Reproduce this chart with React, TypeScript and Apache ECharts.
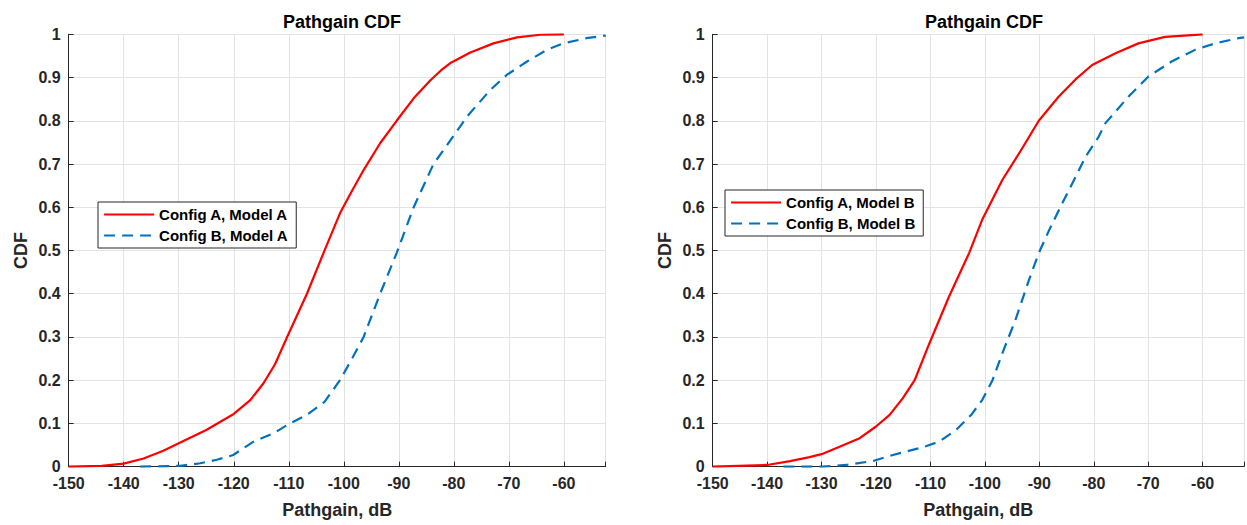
import React, { useEffect, useRef } from "react";
import * as echarts from "echarts";

// Left subplot (Model A)
const leftAX = [-150, -144, -140, -136.4, -132.8, -130, -125, -120, -117, -114.6, -112.5, -110.3, -106.7, -103.7, -100.7, -98.5, -96.4, -93.4, -90.4, -87.3, -84.3, -82.3, -80.7, -77, -72.8, -68.5, -64.3, -60];
const leftAY = [0, 0.002, 0.007, 0.019, 0.037, 0.054, 0.085, 0.122, 0.154, 0.193, 0.237, 0.3, 0.4, 0.494, 0.586, 0.638, 0.686, 0.748, 0.8, 0.852, 0.893, 0.917, 0.933, 0.958, 0.979, 0.993, 0.999, 1.0];
const leftBX = [-137, -129.7, -126.1, -123.1, -120.1, -116.4, -112.8, -109.8, -106.7, -103.5, -100.7, -98.5, -96.4, -93.4, -90.4, -87.3, -83.7, -81.9, -78.9, -77.6, -73.4, -70.4, -66.7, -63.1, -60.1, -55.9, -52.4];
const leftBY = [0, 0.002, 0.008, 0.016, 0.027, 0.058, 0.077, 0.1, 0.12, 0.15, 0.2, 0.25, 0.3, 0.4, 0.494, 0.6, 0.7, 0.732, 0.786, 0.81, 0.871, 0.906, 0.937, 0.964, 0.979, 0.991, 0.997];

// Right subplot (Model B)
const rightAX = [-150, -140, -135.8, -132.2, -130, -126.7, -123, -120, -117.5, -115.1, -112.9, -110.2, -106.6, -102.9, -100.5, -96.8, -93.7, -90.1, -86.5, -83.4, -80.3, -76, -71.8, -66.9, -60];
const rightAY = [0, 0.004, 0.013, 0.022, 0.029, 0.046, 0.066, 0.093, 0.12, 0.158, 0.2, 0.285, 0.393, 0.494, 0.571, 0.663, 0.725, 0.8, 0.855, 0.895, 0.929, 0.956, 0.979, 0.994, 1.0];
const rightBX = [-137, -130, -125.5, -120.6, -116.9, -111.4, -108.4, -105.3, -102.5, -100.5, -98.6, -96.8, -94.4, -91.9, -90.1, -88.2, -85.8, -83.3, -81.5, -79.1, -77.9, -73.6, -70, -65.7, -61.4, -57.7, -53.4, -52.4];
const rightBY = [0, 0, 0.004, 0.013, 0.027, 0.045, 0.058, 0.085, 0.12, 0.154, 0.2, 0.262, 0.339, 0.432, 0.494, 0.547, 0.609, 0.671, 0.717, 0.763, 0.794, 0.856, 0.902, 0.937, 0.964, 0.979, 0.991, 0.993];

const seriesNames = ["Config A, Model A", "Config B, Model A", "Config A, Model B", "Config B, Model B"];
const titleText = "Pathgain CDF";
const xName = "Pathgain, dB";
const yName = "CDF";
const xMin = -150;
const xMax = -52.4;

const zip = (xs: number[], ys: number[]) => xs.map((x, i) => [x, ys[i]]);

const FONT = "'Liberation Sans', Arial, Helvetica, sans-serif";
const AXIS_COLOR = "#262626";
const RED = "#FF0000";
const BLUE = "#0072BD";

export default function App() {
  const ref = useRef<HTMLDivElement>(null);
  useEffect(() => {
    if (!ref.current) return;
    const chart = echarts.init(ref.current, null, { renderer: "svg" });

    const grids = [
      { left: 68.7, top: 34.3, width: 537, height: 432.4 },
      { left: 712.7, top: 34.3, width: 533, height: 432.4 },
    ];

    const xAxisBase = (gi: number) => ({
      type: "value",
      gridIndex: gi,
      min: xMin,
      max: xMax,
      interval: 10,
      name: xName,
      nameLocation: "middle",
      nameGap: 34,
      nameTextStyle: { fontFamily: FONT, fontWeight: "bold", fontSize: 18, color: AXIS_COLOR },
      axisLine: { show: true, onZero: false, lineStyle: { color: AXIS_COLOR, width: 1 } },
      axisTick: { show: true, inside: true, length: 5, lineStyle: { color: AXIS_COLOR } },
      axisLabel: {
        fontFamily: FONT,
        fontWeight: "bold",
        fontSize: 16,
        color: AXIS_COLOR,
        margin: 9,
        formatter: (v: number) => (Math.abs(v % 10) < 1e-6 ? String(v) : ""),
      },
      splitLine: { show: true, lineStyle: { color: "#e3e3e3", width: 1 } },
    });

    const yAxisBase = (gi: number) => ({
      type: "value",
      gridIndex: gi,
      min: 0,
      max: 1,
      interval: 0.1,
      name: yName,
      nameLocation: "middle",
      nameGap: 39,
      nameTextStyle: { fontFamily: FONT, fontWeight: "bold", fontSize: 18, color: AXIS_COLOR },
      axisLine: { show: true, lineStyle: { color: AXIS_COLOR, width: 1 } },
      axisTick: { show: true, inside: true, length: 5, lineStyle: { color: AXIS_COLOR } },
      axisLabel: {
        fontFamily: FONT,
        fontWeight: "bold",
        fontSize: 16,
        color: AXIS_COLOR,
        margin: 8,
        formatter: (v: number) => String(Math.round(v * 10) / 10),
      },
      splitLine: { show: true, lineStyle: { color: "#e3e3e3", width: 1 } },
    });

    const lineSeries = (name: string, data: number[][], gi: number, dashed: boolean) => ({
      type: "line",
      name,
      xAxisIndex: gi,
      yAxisIndex: gi,
      data,
      showSymbol: false,
      symbol: "none",
      smooth: false,
      lineStyle: {
        color: dashed ? BLUE : RED,
        width: 2.2,
        type: dashed ? [11, 7] : "solid",
      },
      itemStyle: { color: dashed ? BLUE : RED },
      z: dashed ? 3 : 4,
    });

    const legendBase = (names: string[], left: number, top: number) => ({
      data: names,
      orient: "vertical",
      left,
      top,
      itemWidth: 50,
      itemHeight: 14,
      itemGap: 6,
      padding: [5, 8, 5, 5],
      backgroundColor: "#ffffff",
      borderColor: AXIS_COLOR,
      borderWidth: 1,
      borderRadius: 0,
      selectedMode: false,
      itemStyle: { opacity: 0 },
      lineStyle: { width: 2.2 },
      textStyle: { fontFamily: FONT, fontWeight: "bold", fontSize: 15, color: "#000000" },
    });

    chart.setOption({
      animation: false,
      backgroundColor: "#ffffff",
      title: [
        {
          text: titleText,
          left: 337,
          top: 8,
          textAlign: "center",
          textStyle: { fontFamily: FONT, fontWeight: "bold", fontSize: 18, color: "#000000" },
        },
        {
          text: titleText,
          left: 979,
          top: 8,
          textAlign: "center",
          textStyle: { fontFamily: FONT, fontWeight: "bold", fontSize: 18, color: "#000000" },
        },
      ],
      legend: [
        legendBase([seriesNames[0], seriesNames[1]], 98, 202),
        legendBase([seriesNames[2], seriesNames[3]], 725, 190),
      ],
      grid: grids,
      xAxis: [xAxisBase(0), xAxisBase(1)],
      yAxis: [yAxisBase(0), yAxisBase(1)],
      series: [
        lineSeries(seriesNames[0], zip(leftAX, leftAY), 0, false),
        lineSeries(seriesNames[1], zip(leftBX, leftBY), 0, true),
        lineSeries(seriesNames[2], zip(rightAX, rightAY), 1, false),
        lineSeries(seriesNames[3], zip(rightBX, rightBY), 1, true),
      ],
    });

    return () => chart.dispose();
  }, []);

  return (
    <div
      ref={ref}
      style={{ position: "absolute", left: 0, top: 0, width: 1247, height: 525, background: "#fff" }}
    />
  );
}
